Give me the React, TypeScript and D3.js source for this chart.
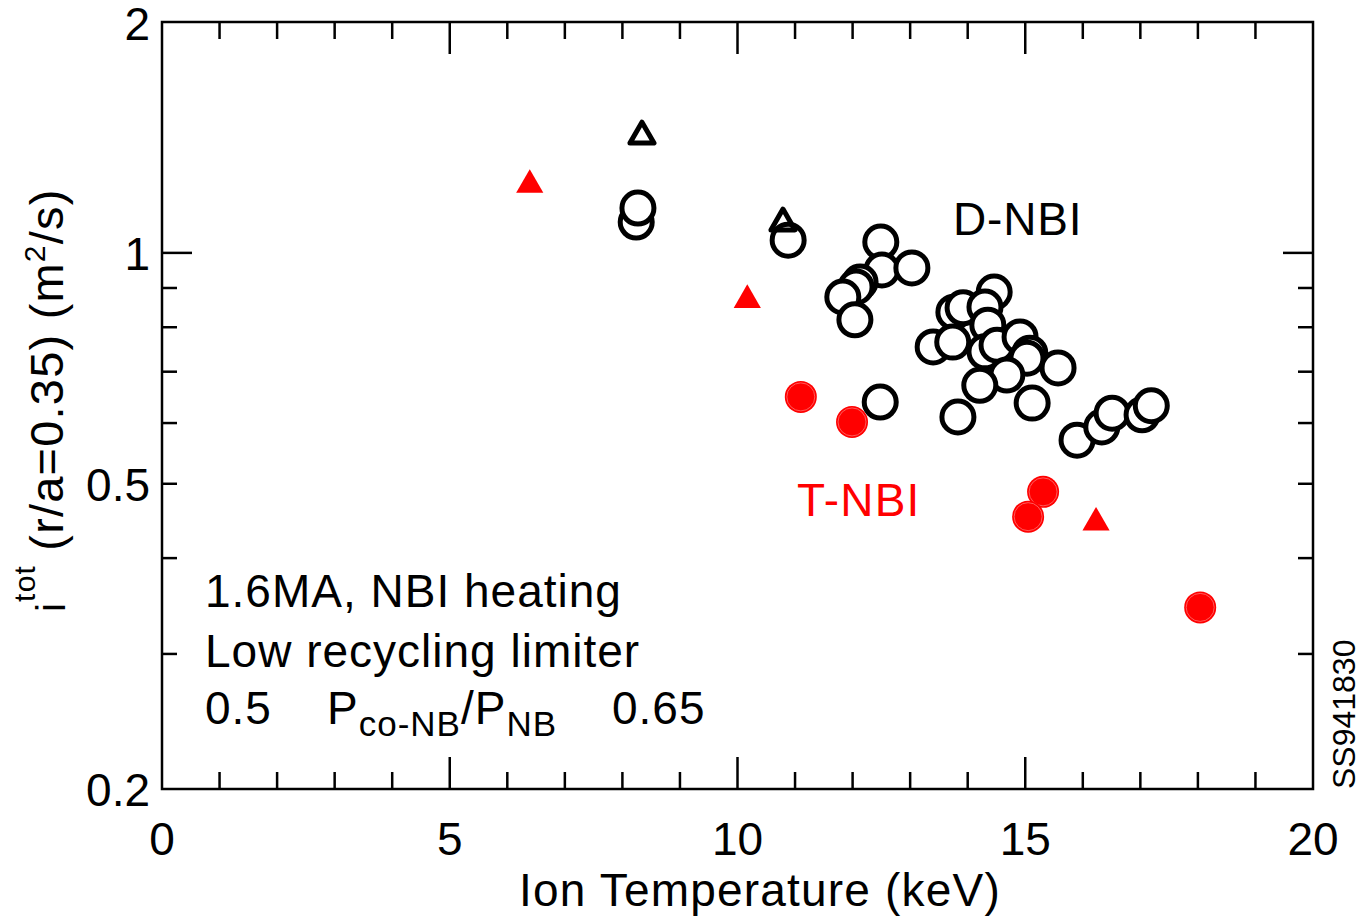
import React from "react";
import * as d3 from "d3";

// D-NBI open circles: ion temperature (keV), chi_i^tot (m2/s)
const dCircleT = [8.24, 8.27, 10.88, 12.49, 12.51, 13.03, 12.13, 12.06, 11.83, 12.04, 14.46, 13.76, 13.92, 14.3, 14.35, 13.4, 13.74, 14.3, 14.51, 14.91, 15.08, 15.03, 15.57, 14.68, 14.21, 13.83, 15.12, 12.48, 15.9, 16.33, 16.51, 17.03, 17.19];
const dCircleChi = [1.097, 1.144, 1.039, 1.033, 0.95, 0.956, 0.916, 0.903, 0.876, 0.818, 0.889, 0.837, 0.848, 0.85, 0.805, 0.754, 0.765, 0.743, 0.758, 0.777, 0.74, 0.729, 0.708, 0.693, 0.672, 0.611, 0.637, 0.639, 0.57, 0.593, 0.618, 0.615, 0.632];

// D-NBI open triangles
const dTriT = [8.34, 10.79];
const dTriChi = [1.42, 1.094];

// T-NBI filled circles
const tCircleT = [11.1, 11.99, 15.31, 15.05, 18.04];
const tCircleChi = [0.649, 0.602, 0.488, 0.453, 0.345];

// T-NBI filled triangles
const tTriT = [6.39, 10.17, 16.23];
const tTriChi = [1.226, 0.868, 0.445];

const xMajor = [0, 5, 10, 15, 20];
const xMinor = d3.range(1, 20).filter((v) => v % 5 !== 0);
const yLabels = [0.2, 0.5, 1, 2];
const yMinor = [0.3, 0.4, 0.5, 0.6, 0.7, 0.8, 0.9];

const W = 1361;
const H = 917;
const left = 162;
const right = 1313;
const top = 22;
const bottom = 789;
const font = "'Liberation Sans', Arial, Helvetica, sans-serif";

const x = d3.scaleLinear().domain([0, 20]).range([left, right]);
const y = d3.scaleLog().domain([0.2, 2]).range([bottom, top]);

const triOpen = d3.symbol(d3.symbolTriangle, 250)();
const triFill = d3.symbol(d3.symbolTriangle, 320)();

export default function App() {
  return (
    <svg
      width={W}
      height={H}
      style={{ position: "absolute", left: 0, top: 0, background: "#fff" }}
      fontFamily={font}
    >
      {/* ticks */}
      <g stroke="#000" strokeWidth={2.5}>
        {xMinor.map((v) => (
          <g key={"xm" + v}>
            <line x1={x(v)} x2={x(v)} y1={bottom} y2={bottom - 17} />
            <line x1={x(v)} x2={x(v)} y1={top} y2={top + 17} />
          </g>
        ))}
        {xMajor.slice(1, -1).map((v) => (
          <g key={"xM" + v}>
            <line x1={x(v)} x2={x(v)} y1={bottom} y2={bottom - 32} />
            <line x1={x(v)} x2={x(v)} y1={top} y2={top + 32} />
          </g>
        ))}
        {yMinor.map((v) => (
          <g key={"ym" + v}>
            <line x1={left} x2={left + 15} y1={y(v)} y2={y(v)} />
            <line x1={right} x2={right - 15} y1={y(v)} y2={y(v)} />
          </g>
        ))}
        <line x1={left} x2={left + 30} y1={y(1)} y2={y(1)} />
        <line x1={right} x2={right - 30} y1={y(1)} y2={y(1)} />
        <rect x={left} y={top} width={right - left} height={bottom - top} fill="none" />
      </g>

      {/* tick labels */}
      <g fontSize={46} fill="#000">
        {xMajor.map((v) => (
          <text key={"xl" + v} x={x(v)} y={855} textAnchor="middle">
            {v}
          </text>
        ))}
        {yLabels.map((v) => (
          <text key={"yl" + v} x={150} y={Math.max(y(v) + 17, 40)} textAnchor="end">
            {v}
          </text>
        ))}
      </g>

      {/* axis titles */}
      <text x={760} y={906} fontSize={46} letterSpacing={1.2} textAnchor="middle">
        Ion Temperature (keV)
      </text>
      <g transform={`translate(63, 612) rotate(-90)`}>
        <text fontSize={47} letterSpacing={1.2}>
          <tspan fontSize={40} dy={2}>i</tspan>
          <tspan fontSize={30} dy={-30}>tot</tspan>
          <tspan dy={28}> (r/a=0.35) (m</tspan>
          <tspan fontSize={30} dy={-18}>2</tspan>
          <tspan dy={18}>/s)</tspan>
        </text>
      </g>

      {/* D-NBI */}
      <g fill="none" stroke="#000" strokeWidth={5}>
        {dCircleT.map((t, i) => (
          <circle key={"dc" + i} cx={x(t)} cy={y(dCircleChi[i])} r={16} fill="#fff" />
        ))}
        {dTriT.map((t, i) => (
          <path
            key={"dt" + i}
            d={triOpen || ""}
            transform={`translate(${x(t)},${y(dTriChi[i])})`}
            strokeLinejoin="round"
          />
        ))}
      </g>

      {/* T-NBI */}
      <g fill="#ff0000">
        {tCircleT.map((t, i) => (
          <g key={"tc" + i}>
            <circle cx={x(t)} cy={y(tCircleChi[i])} r={16} />
            <circle cx={x(t)} cy={y(tCircleChi[i])} r={14} fill="none" stroke="#ff7070" strokeWidth={0.8} />
          </g>
        ))}
        {tTriT.map((t, i) => (
          <path key={"tt" + i} d={triFill || ""} transform={`translate(${x(t)},${y(tTriChi[i])})`} />
        ))}
      </g>

      {/* annotations */}
      <text x={953} y={235} fontSize={46} letterSpacing={0.8}>D-NBI</text>
      <text x={797} y={516} fontSize={46} letterSpacing={1.2} fill="#ff0000">T-NBI</text>
      <g fontSize={46} letterSpacing={1}>
        <text x={205} y={607}>1.6MA, NBI heating</text>
        <text x={205} y={667}>Low recycling limiter</text>
        <text x={205} y={724}>
          0.5
          <tspan x={327}>P</tspan>
          <tspan fontSize={35} dy={12}>co-NB</tspan>
          <tspan dy={-12}>/P</tspan>
          <tspan fontSize={35} dy={12}>NB</tspan>
          <tspan x={612} dy={-12}>0.65</tspan>
        </text>
      </g>
      <text transform="translate(1355, 789) rotate(-90)" fontSize={32}>
        SS941830
      </text>
    </svg>
  );
}
